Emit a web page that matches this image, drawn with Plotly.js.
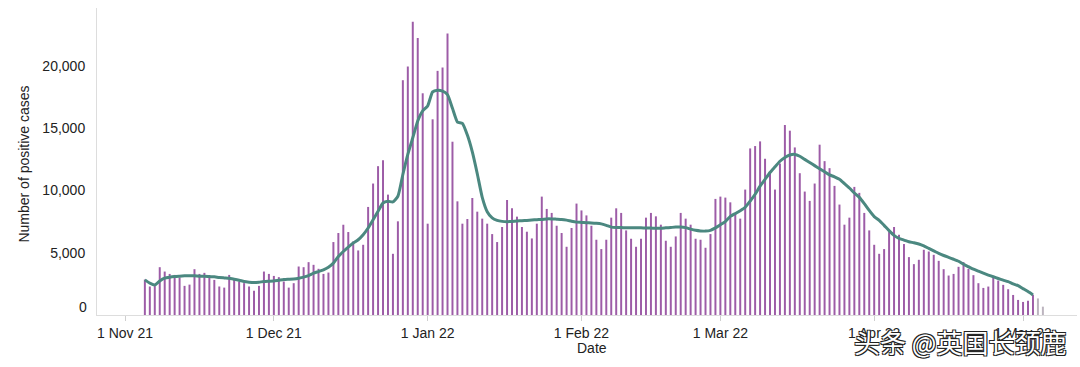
<!DOCTYPE html>
<html>
<head>
<meta charset="utf-8">
<script src="https://cdn.plot.ly/plotly-3.0.1.min.js"></script>
<style>
  html, body { margin: 0; padding: 0; background: #fff; }
  #chart { width: 1080px; height: 367px; }
</style>
</head>
<body>
<div id="chart"></div>
<script>
// ---- Data ----
const firstDay = '2021-11-05';

// Daily positive cases, 5 Nov 2021 .. 5 May 2022
const casesNov = [2850, 2290, 2500, 3840, 3490, 3300, 3220, 3010, 2340, 2440, 3680, 3300, 3385, 3040, 2820, 2290, 2200, 3220, 2820, 2690, 2560, 2290, 1940, 2340, 3490, 3300];
const casesDec = [3140, 3040, 2690, 2200, 2555, 3895, 3840, 4245, 4030, 3710, 3300, 3410, 5860, 6585, 7250, 6665, 5910, 5185, 5640, 8680, 10560, 11955, 12440, 9670, 4915, 7525, 18860, 19960, 23560, 22245, 17810];
const casesJan = [7335, 15720, 19610, 19880, 22620, 13920, 9130, 7335, 7710, 9400, 8300, 7740, 7335, 6500, 5860, 7070, 9240, 8570, 7900, 7070, 6690, 6150, 7335, 9510, 8520, 8200, 7170, 6585, 5480, 6990, 8950];
const casesFeb = [8400, 8000, 7170, 6045, 5295, 6045, 7820, 8570, 8200, 6795, 6125, 5480, 6125, 7820, 8200, 7925, 7255, 5965, 5480, 6310, 8200, 7740, 7255, 6125, 6045, 5400, 6500, 9325];
const casesMar = [9510, 9430, 9050, 8115, 7740, 10075, 13380, 13570, 13945, 12550, 11390, 10075, 12170, 15260, 14805, 13460, 11390, 9915, 9165, 10560, 13680, 12360, 11795, 10370, 8870, 7255, 7820, 10290, 9810, 8200, 6795];
const casesApr = [5640, 4915, 5295, 6665, 7070, 6450, 5700, 4650, 4085, 4435, 5240, 5100, 4835, 4350, 3680, 3170, 3300, 3870, 4245, 3710, 3200, 2555, 2175, 2285, 3040, 2765, 2420, 2070, 1610, 1210];
const casesMay = [1050, 1150, 1620, 1330, 670];

// 7-day average line, 5 Nov 2021 .. 3 May 2022
const avgNov = [2820, 2555, 2420, 2740, 2955, 3040, 3090, 3120, 3145, 3145, 3145, 3120, 3120, 3090, 3065, 3010, 2980, 2955, 2875, 2795, 2690, 2635, 2605, 2635, 2690, 2715];
const avgDec = [2740, 2795, 2850, 2875, 2900, 2955, 3040, 3170, 3360, 3490, 3630, 3840, 4165, 4700, 5100, 5455, 5780, 6045, 6450, 6990, 7655, 8330, 9000, 9130, 9080, 9535, 11285, 12900, 14240, 15585, 16390];
const avgJan = [16790, 17920, 18050, 17980, 17700, 16600, 15500, 15400, 14450, 13100, 11350, 9450, 8300, 7800, 7600, 7520, 7500, 7520, 7550, 7580, 7600, 7630, 7660, 7680, 7720, 7720, 7700, 7680, 7620, 7530, 7460];
const avgFeb = [7440, 7420, 7400, 7370, 7320, 7200, 7060, 7030, 7020, 7010, 7010, 7010, 7000, 6990, 6980, 6960, 6970, 7000, 7030, 7060, 7070, 7020, 6900, 6800, 6750, 6740, 6800, 7000];
const avgMar = [7250, 7500, 7920, 8150, 8380, 8650, 9150, 9700, 10350, 10900, 11450, 11900, 12350, 12650, 12850, 12900, 12750, 12500, 12250, 12000, 11750, 11500, 11250, 11100, 10900, 10550, 10200, 9800, 9450, 8950, 8400];
const avgApr = [7900, 7600, 7200, 6780, 6400, 6150, 6020, 5880, 5800, 5700, 5550, 5350, 5150, 4950, 4780, 4630, 4480, 4320, 4080, 3880, 3680, 3520, 3360, 3210, 3070, 2930, 2800, 2680, 2500, 2360];
const avgMay = [2120, 1880, 1610];

// number of trailing days shown as incomplete (grey)
const incompleteDays = 2;

// Axis ticks and titles
const xTickVals = ['2021-11-01', '2021-12-01', '2022-01-01', '2022-02-01', '2022-03-01', '2022-04-01', '2022-05-01'];
const xTickText = ['1 Nov 21', '1 Dec 21', '1 Jan 22', '1 Feb 22', '1 Mar 22', '1 Apr 22', '1 May 22'];
const yTickVals = [0, 5000, 10000, 15000, 20000];
const yTickText = ['', '5,000', '10,000', '15,000', '20,000'];
const xTitle = 'Date';
const yTitle = 'Number of positive cases';
const watermark = '头条 @英国长颈鹿';

// ---- Build ----
const cases = [].concat(casesNov, casesDec, casesJan, casesFeb, casesMar, casesApr, casesMay);
const avg = [].concat(avgNov, avgDec, avgJan, avgFeb, avgMar, avgApr, avgMay);

function dayAfter(start, n) {
  const p = start.split('-').map(Number);
  const d = new Date(Date.UTC(p[0], p[1] - 1, p[2] + n));
  return d.toISOString().slice(0, 10);
}
const dates = cases.map((_, i) => dayAfter(firstDay, i));
const avgDates = avg.map((_, i) => dayAfter(firstDay, i));

const purple = '#9d5ca7';
const grey = '#bcb4bf';
const barColors = cases.map((_, i) => (i >= cases.length - incompleteDays ? grey : purple));

const font = 'Liberation Sans, Arial, Helvetica, sans-serif';
const textColor = '#222';

const traces = [
  {
    type: 'bar',
    x: dates,
    y: cases,
    marker: { color: barColors, line: { width: 0 } },
    hoverinfo: 'skip',
    showlegend: false
  },
  {
    type: 'scatter',
    mode: 'lines',
    x: avgDates,
    y: avg,
    line: { color: '#4b8880', width: 3, shape: 'spline', smoothing: 0.5 },
    hoverinfo: 'skip',
    showlegend: false
  }
];

const layout = {
  width: 1080,
  height: 367,
  margin: { l: 97, r: 3, t: 8, b: 52 },
  paper_bgcolor: '#fff',
  plot_bgcolor: '#fff',
  bargap: 0.6,
  font: { family: font, size: 14, color: textColor },
  xaxis: {
    type: 'date',
    range: ['2021-10-26 08:30', '2022-05-11 21:00'],
    tickvals: xTickVals,
    ticktext: xTickText,
    ticks: 'outside',
    ticklen: 5,
    tickcolor: '#cfcfcf',
    showgrid: false,
    zeroline: false,
    showline: true,
    linecolor: '#dddddd',
    linewidth: 1,
    tickfont: { family: font, size: 14, color: textColor }
  },
  yaxis: {
    range: [0, 24660],
    tickvals: yTickVals,
    ticktext: yTickText,
    ticks: '',
    showgrid: false,
    zeroline: false,
    showline: true,
    linecolor: '#dddddd',
    linewidth: 1,
    ticklabelstandoff: 8,
    tickfont: { family: font, size: 14, color: textColor }
  },
  annotations: [
    {
      xref: 'paper', yref: 'y', x: 0, y: 0,
      xanchor: 'right', yanchor: 'middle',
      xshift: -8, yshift: 8,
      text: '0', showarrow: false,
      font: { family: font, size: 14, color: textColor }
    },
    {
      xref: 'paper', yref: 'paper', x: 0, y: 0.49,
      xanchor: 'center', yanchor: 'middle',
      xshift: -73, textangle: -90,
      text: yTitle, showarrow: false,
      font: { family: font, size: 14, color: textColor }
    },
    {
      xref: 'paper', yref: 'paper', x: 0.505, y: 0,
      xanchor: 'center', yanchor: 'middle',
      yshift: -33,
      text: xTitle, showarrow: false,
      font: { family: font, size: 14, color: textColor }
    },
    {
      xref: 'paper', yref: 'paper', x: 1, y: 0,
      xanchor: 'right', yanchor: 'top',
      xshift: -9, yshift: -6,
      text: watermark, showarrow: false,
      font: {
        family: 'Noto Sans CJK SC, sans-serif', size: 26, color: '#ffffff',
        shadow: '1px 1px 0 #222, -1px -1px 0 #222, 1px -1px 0 #222, -1px 1px 0 #222'
      }
    }
  ],
  showlegend: false
};

Plotly.newPlot('chart', traces, layout, { displayModeBar: false, staticPlot: true });
</script>
</body>
</html>
